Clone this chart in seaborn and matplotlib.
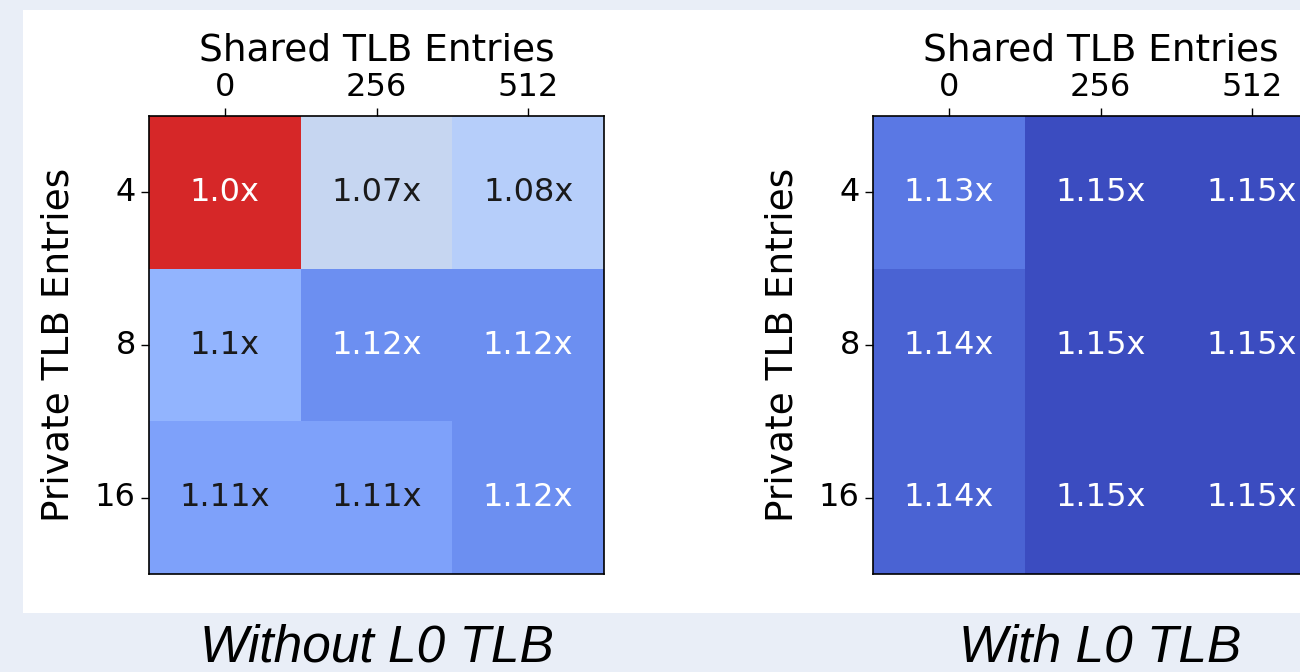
import numpy as np
import matplotlib
matplotlib.use("Agg")
import matplotlib.pyplot as plt
from matplotlib.colors import ListedColormap
from matplotlib.patches import Rectangle
import seaborn as sns

# Speedup over the baseline configuration, rows = private TLB size, cols = shared TLB size
shared_entries = [0, 256, 512]
private_entries = [4, 8, 16]
speedup_without_l0 = [
    [1.0, 1.07, 1.08],
    [1.1, 1.12, 1.12],
    [1.11, 1.11, 1.12],
]
speedup_with_l0 = [
    [1.13, 1.15, 1.15],
    [1.14, 1.15, 1.15],
    [1.14, 1.15, 1.15],
]
panel_titles = ["Without L0 TLB", "With L0 TLB"]
baseline = 1.0

W, H = 1300, 672
plt.rcParams["font.family"] = ["DejaVu Sans"]

fig = plt.figure(figsize=(W / 100, H / 100), dpi=100, facecolor="#e9eef7")

# white card behind both heatmaps
fig.add_artist(Rectangle((23 / W, 1 - 613 / H), 1.0, (613 - 10) / H,
                         transform=fig.transFigure, facecolor="white",
                         edgecolor="none", zorder=0))

base_cmap = ListedColormap(["#d62728"])
annot_size = 23

for vals, title, left in zip([speedup_without_l0, speedup_with_l0], panel_titles, [149, 873]):
    ax = fig.add_axes([left / W, 1 - 574 / H, 455 / W, 458 / H])
    data = np.array(vals, dtype=float)
    labels = np.array([[f"{v}x" for v in row] for row in vals])
    is_base = np.isclose(data, baseline)

    sns.heatmap(data, ax=ax, cmap="coolwarm_r", vmin=0.96, vmax=1.15,
                mask=is_base, annot=labels, fmt="", cbar=False,
                annot_kws={"fontsize": annot_size},
                xticklabels=shared_entries, yticklabels=private_entries)
    if is_base.any():
        sns.heatmap(data, ax=ax, cmap=base_cmap, mask=~is_base,
                    annot=labels, fmt="", cbar=False,
                    annot_kws={"fontsize": annot_size},
                    xticklabels=shared_entries, yticklabels=private_entries)

    # light cells get dark text, saturated cells get white text
    for t in ax.texts:
        v = float(t.get_text().rstrip("x"))
        if baseline < v < 1.115:
            t.set_color("#1a1a1a")
        else:
            t.set_color("white")

    for s in ax.spines.values():
        s.set_visible(True)
        s.set_color("black")
        s.set_linewidth(1.2)

    ax.xaxis.tick_top()
    ax.xaxis.set_label_position("top")
    ax.tick_params(axis="both", which="major", length=6, width=1, color="black",
                   labelcolor="black", labelsize=annot_size, pad=3.5,
                   top=True, bottom=False, left=True)
    ax.set_yticklabels(private_entries, rotation=0)
    ax.set_xticklabels(shared_entries, rotation=0)
    ax.set_xlabel("Shared TLB Entries", fontsize=27, labelpad=8, color="black")
    ax.set_ylabel("Private TLB Entries", fontsize=27, labelpad=13, color="black")

    cx = (left + 455 / 2) / W
    fig.text(cx, 1 - 662 / H, title, ha="center", va="baseline", fontsize=37,
             style="italic", family=["Liberation Sans", "DejaVu Sans"], color="black")

fig.savefig("out.png", dpi=100, facecolor=fig.get_facecolor())
